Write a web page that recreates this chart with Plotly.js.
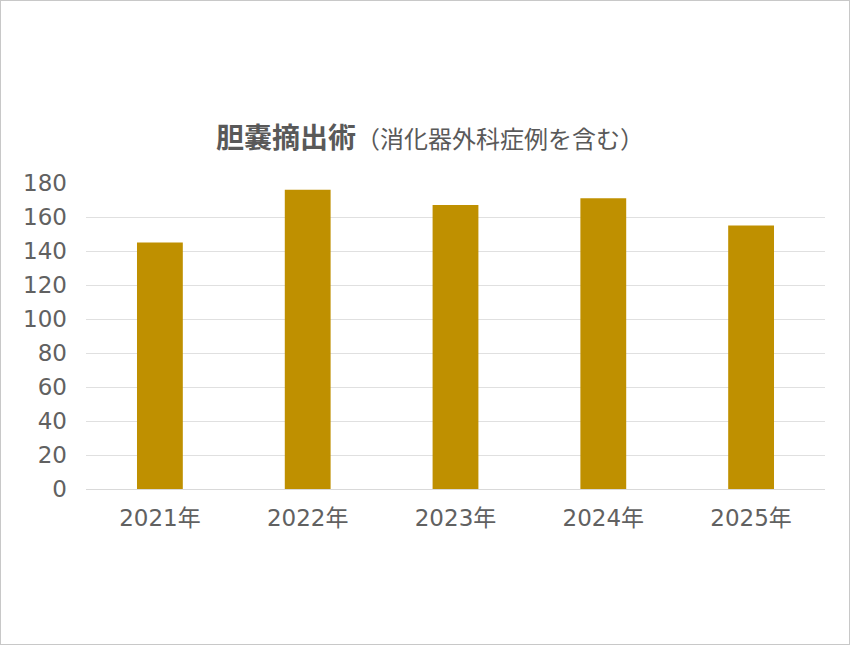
<!DOCTYPE html>
<html>
<head>
<meta charset="utf-8">
<script src="https://cdn.plot.ly/plotly-3.0.1.min.js"></script>
<style>
html,body{margin:0;padding:0;background:#fff;}
#chart{width:850px;height:645px;box-sizing:border-box;border:1px solid #C8C8C8;}
</style>
</head>
<body>
<div id="chart"></div>
<script>
const categories = ["2021年", "2022年", "2023年", "2024年", "2025年"];
const values = [145, 176, 167, 171, 155];
const yTicks = [0, 20, 40, 60, 80, 100, 120, 140, 160, 180];
const titleMain = "胆嚢摘出術";
const titleSub = "（消化器外科症例を含む）";

const font = '"Noto Sans CJK JP", "Noto Sans", sans-serif';
const tickFont = '"DejaVu Sans", "Noto Sans CJK JP", sans-serif';

Plotly.newPlot('chart', [{
  type: 'bar',
  x: categories,
  y: values,
  marker: {color: '#BF9000'},
  width: 0.31,
  hoverinfo: 'none'
}], {
  width: 848,
  height: 643,
  margin: {l: 85, r: 24, t: 182, b: 155},
  paper_bgcolor: '#fff',
  plot_bgcolor: '#fff',
  showlegend: false,
  font: {family: font, color: '#595959'},
  title: {
    text: '<b>' + titleMain + '</b><span style="font-size:24px">' + titleSub + '</span>',
    font: {family: font, size: 28, color: '#595959'},
    xref: 'container', x: 0.506, xanchor: 'center',
    yref: 'container', y: 0.787, yanchor: 'middle'
  },
  xaxis: {
    type: 'category',
    tickfont: {family: tickFont, size: 23, color: '#616161'},
    showgrid: false,
    showline: true,
    linecolor: '#D9D9D9',
    linewidth: 1,
    ticks: '',
    ticklabelstandoff: 8,
    fixedrange: true
  },
  yaxis: {
    range: [0, 180],
    tickvals: yTicks,
    ticktext: yTicks.map(String),
    tickfont: {family: tickFont, size: 23, color: '#616161'},
    showgrid: true,
    gridcolor: '#E0E0E0',
    gridwidth: 1,
    zeroline: false,
    showline: false,
    ticks: '',
    ticklabelstandoff: 18,
    fixedrange: true
  }
}, {displayModeBar: false, staticPlot: true});
</script>
</body>
</html>
